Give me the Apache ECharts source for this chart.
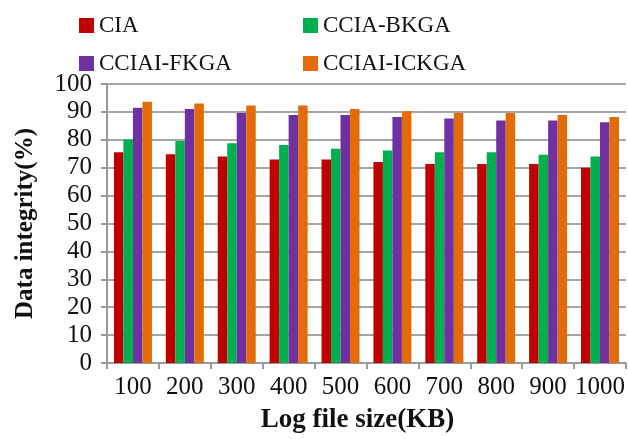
<!DOCTYPE html>
<html>
<head>
<meta charset="utf-8">
<script src="https://cdn.jsdelivr.net/npm/echarts@6/dist/echarts.min.js"></script>
<style>html,body{margin:0;padding:0;background:#fff;}#c{width:628px;height:439px;}</style>
</head>
<body>
<div id="c"></div>
<script>
const categories = ['100','200','300','400','500','600','700','800','900','1000'];
const seriesNames = ['CIA','CCIA-BKGA','CCIAI-FKGA','CCIAI-ICKGA'];
const cia = [75.5, 74.8, 74.0, 72.9, 72.9, 72.0, 71.3, 71.3, 71.3, 70.0];
const bkga = [80.1, 79.6, 78.8, 78.1, 76.8, 76.2, 75.5, 75.5, 74.6, 74.0];
const fkga = [91.5, 91.0, 89.6, 88.9, 88.9, 88.2, 87.6, 86.9, 86.9, 86.3];
const ickga = [93.6, 93.0, 92.3, 92.3, 91.0, 90.2, 89.6, 89.6, 88.9, 88.2];
const colors = ['#c00000','#00b050','#7030a0','#e36c09'];
const font = "'Liberation Serif','Times New Roman',serif";

const chart = echarts.init(document.getElementById('c'));
const legendText = {fontFamily: font, fontSize: 23, color: '#111'};
chart.setOption({
  animation: false,
  textStyle: {fontFamily: font},
  legend: [
    {data: [seriesNames[0], seriesNames[2]], orient: 'vertical', left: 79, top: 14, padding: 0,
     itemWidth: 15, itemHeight: 15, itemGap: 15, textStyle: legendText, icon: 'rect'},
    {data: [seriesNames[1], seriesNames[3]], orient: 'vertical', left: 303, top: 14, padding: 0,
     itemWidth: 15, itemHeight: 15, itemGap: 15, textStyle: legendText, icon: 'rect'}
  ],
  grid: {left: 107, right: 2, top: 84, bottom: 71},
  xAxis: {
    type: 'category', data: categories,
    name: 'Log file size(KB)', nameLocation: 'middle', nameGap: 44,
    nameTextStyle: {fontFamily: font, fontSize: 27, fontWeight: 'bold', color: '#111', padding: [0, 18, 0, 0]},
    axisLine: {lineStyle: {color: '#9a9a9a', width: 2}},
    axisTick: {show: true, length: 6, lineStyle: {color: '#9a9a9a', width: 2}},
    axisLabel: {fontFamily: font, fontSize: 25, color: '#111', margin: 12, interval: 0}
  },
  yAxis: {
    type: 'value', min: 0, max: 100, interval: 10,
    name: 'Data integrity(%)', nameLocation: 'middle', nameGap: 69,
    nameTextStyle: {fontFamily: font, fontSize: 25, fontWeight: 'bold', color: '#111'},
    axisLine: {show: true, lineStyle: {color: '#9a9a9a', width: 2}},
    axisTick: {show: true, length: 6, lineStyle: {color: '#9a9a9a', width: 2}},
    axisLabel: {fontFamily: font, fontSize: 25, color: '#111', margin: 15},
    splitLine: {lineStyle: {color: '#a6a6a6', width: 2}}
  },
  series: [cia, bkga, fkga, ickga].map((d, i) => ({
    name: seriesNames[i], type: 'bar', data: d, barWidth: 9.5, barGap: '0%',
    itemStyle: {color: colors[i]}
  }))
});
</script>
</body>
</html>
